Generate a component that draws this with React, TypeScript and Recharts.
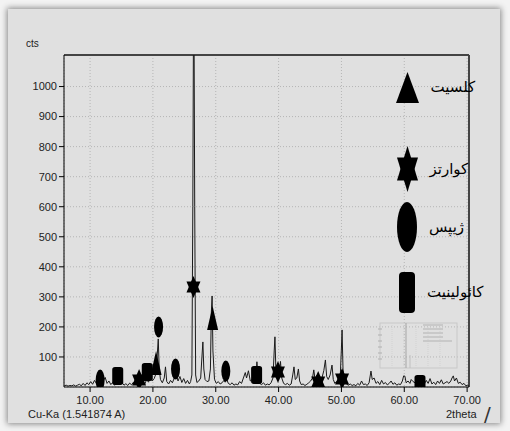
import React from 'react';
import { ComposedChart, Line, Scatter, XAxis, YAxis, CartesianGrid, ReferenceLine } from 'recharts';

// diffractogram: [2theta, counts]
const pattern: [number, number][] = [
  [5.9, 4], [6.2, 6], [6.5, 3], [6.8, 5], [7.1, 4], [7.4, 7], [7.7, 3], [8.0, 6], [8.3, 9], [8.6, 4],
  [8.9, 12], [9.2, 5], [9.5, 14], [9.8, 8], [10.1, 18], [10.4, 9], [10.7, 22], [11.0, 12], [11.3, 26], [11.6, 30],
  [11.9, 14], [12.2, 24], [12.4, 32], [12.7, 12], [13.0, 20], [13.3, 8], [13.6, 15], [13.9, 6], [14.2, 12], [14.5, 22],
  [14.8, 9], [15.1, 14], [15.4, 6], [15.7, 11], [16.0, 5], [16.3, 13], [16.6, 7], [16.9, 16], [17.2, 8], [17.5, 22],
  [17.8, 30], [18.1, 12], [18.4, 18], [18.7, 10], [19.0, 24], [19.3, 16], [19.6, 35], [19.9, 20], [20.2, 28], [20.5, 45],
  [20.7, 110], [20.85, 160], [21.0, 60], [21.2, 25], [21.5, 14], [21.8, 30], [22.0, 67], [22.2, 18], [22.5, 10], [22.8, 22],
  [23.1, 14], [23.4, 30], [23.7, 42], [24.0, 20], [24.3, 35], [24.6, 15], [24.9, 28], [25.2, 12], [25.5, 22], [25.8, 10],
  [26.0, 18], [26.2, 40], [26.35, 600], [26.45, 1180], [26.55, 1180], [26.65, 600], [26.8, 40], [27.0, 15], [27.3, 20], [27.6, 30],
  [27.8, 100], [27.95, 150], [28.1, 60], [28.3, 25], [28.6, 18], [28.9, 20], [29.15, 60], [29.3, 250], [29.42, 303], [29.55, 120],
  [29.8, 25], [30.1, 12], [30.4, 18], [30.7, 10], [31.0, 14], [31.3, 22], [31.5, 16], [31.7, 28], [32.0, 12], [32.3, 8],
  [32.6, 14], [32.9, 6], [33.2, 10], [33.5, 7], [33.8, 18], [34.1, 12], [34.4, 30], [34.7, 48], [34.9, 30], [35.2, 54],
  [35.5, 20], [35.8, 25], [36.1, 12], [36.4, 40], [36.55, 84], [36.7, 45], [37.0, 12], [37.3, 8], [37.6, 14], [37.9, 6],
  [38.2, 10], [38.5, 7], [38.8, 14], [39.1, 30], [39.3, 120], [39.42, 167], [39.55, 70], [39.8, 50], [40.0, 30], [40.3, 85],
  [40.5, 30], [40.8, 12], [41.1, 8], [41.4, 12], [41.7, 6], [42.0, 10], [42.25, 40], [42.45, 67], [42.65, 25], [42.9, 30],
  [43.15, 60], [43.35, 20], [43.6, 8], [43.9, 10], [44.2, 5], [44.5, 9], [44.8, 14], [45.1, 20], [45.4, 30], [45.6, 57],
  [45.8, 25], [46.1, 40], [46.3, 30], [46.6, 18], [46.9, 30], [47.2, 55], [47.45, 90], [47.65, 35], [47.9, 25], [48.2, 40],
  [48.5, 73], [48.7, 25], [48.95, 12], [49.2, 18], [49.5, 15], [49.8, 30], [49.98, 120], [50.1, 190], [50.25, 60], [50.5, 20],
  [50.8, 10], [51.1, 6], [51.4, 10], [51.7, 5], [52.0, 8], [52.3, 4], [52.6, 12], [52.9, 6], [53.2, 20], [53.5, 8],
  [53.8, 10], [54.1, 5], [54.4, 14], [54.7, 53], [54.9, 25], [55.2, 30], [55.5, 12], [55.8, 18], [56.1, 8], [56.4, 22],
  [56.7, 10], [57.0, 15], [57.3, 7], [57.6, 12], [57.9, 20], [58.2, 9], [58.5, 14], [58.8, 6], [59.1, 10], [59.4, 8],
  [59.7, 20], [59.9, 37], [60.1, 36], [60.3, 14], [60.6, 20], [60.9, 12], [61.1, 25], [61.4, 18], [61.7, 14], [62.0, 8],
  [62.3, 12], [62.6, 6], [62.9, 14], [63.2, 10], [63.5, 22], [63.8, 12], [64.1, 28], [64.4, 10], [64.7, 16], [65.0, 8],
  [65.3, 20], [65.6, 12], [65.9, 24], [66.2, 10], [66.5, 14], [66.8, 18], [67.1, 12], [67.4, 20], [67.6, 30], [67.8, 37],
  [68.0, 20], [68.3, 30], [68.6, 12], [68.9, 16], [69.2, 8], [69.5, 12], [69.8, 4], [70.1, 6], [70.3, 3],
];

// marker positions for each mineral
const calcite: [number, number][] = [[20.5, 80], [29.5, 230]];
const quartz: [number, number][] = [[26.45, 333], [17.8, 23], [39.9, 50], [46.3, 17], [50.1, 27]];
const gypsum: [number, number][] = [[20.9, 200], [11.6, 23], [23.6, 60], [31.6, 53]];
const kaolinite: [number, number][] = [[14.4, 37], [19.1, 50], [36.5, 40], [62.5, 10]];

const mineralNames = ['کلسیت', 'کوارتز', 'ژیپس', 'کائولینیت'];

const xTicks = [10, 20, 30, 40, 50, 60, 70];
const yTicks = [100, 200, 300, 400, 500, 600, 700, 800, 900, 1000];

const X_MIN = 5.85;
const X_MAX = 70.3;
const Y_MAX = 1105;

const toPts = (a: [number, number][]) => a.map(([x, y]) => ({ x, y }));

const TriangleMark = ({ cx, cy, w = 11, h = 24 }: any) => (
  <polygon points={`${cx},${cy - h / 2} ${cx + w / 2},${cy + h / 2} ${cx - w / 2},${cy + h / 2}`} fill="#000" />
);

const StarMark = ({ cx, cy, w = 14, h = 22 }: any) => (
  <g fill="#000">
    <polygon points={`${cx},${cy - h / 2} ${cx + w / 2},${cy + h / 4} ${cx - w / 2},${cy + h / 4}`} />
    <polygon points={`${cx},${cy + h / 2} ${cx + w / 2},${cy - h / 4} ${cx - w / 2},${cy - h / 4}`} />
  </g>
);

const EllipseMark = ({ cx, cy, w = 9, h = 21 }: any) => <ellipse cx={cx} cy={cy} rx={w / 2} ry={h / 2} fill="#000" />;

const BlockMark = ({ cx, cy, w = 11, h = 18 }: any) => (
  <rect x={cx - w / 2} y={cy - h / 2} width={w} height={h} rx={w / 4} fill="#000" />
);

// legend layout: marker, marker size, row centre
const legendRows = [
  { Mark: TriangleMark, w: 23, h: 31, cy: 87 },
  { Mark: StarMark, w: 21, h: 46, cy: 169 },
  { Mark: EllipseMark, w: 20, h: 50, cy: 227 },
  { Mark: BlockMark, w: 16, h: 41, cy: 292 },
];

const tickFont = { fontFamily: '"Liberation Sans Narrow", "Liberation Sans", Arial', fontSize: 11, fill: '#222' };
const labelFont = { fontFamily: '"Liberation Sans Narrow", "Liberation Sans", Arial', fontSize: 11, color: '#222' };

const Legend = () => (
  <>
    {legendRows.map((r, i) => (
      <div
        key={i}
        style={{ position: 'absolute', left: 390, top: r.cy - 30, height: 60, display: 'flex', alignItems: 'center' }}
      >
        <svg width={r.w + 4} height={r.h + 4} style={{ marginLeft: 15 - r.w / 2 }}>
          <r.Mark cx={(r.w + 4) / 2} cy={(r.h + 4) / 2} w={r.w} h={r.h} />
        </svg>
        <span
          style={{ fontFamily: '"DejaVu Sans", "Noto Sans"', fontSize: 15, color: '#000', marginLeft: 10, direction: 'rtl' }}
        >
          {mineralNames[i]}
        </span>
      </div>
    ))}
  </>
);

const Inset = () => (
  <svg width={82} height={50} style={{ position: 'absolute', left: 377, top: 321 }}>
    <rect x={3} y={2} width={77} height={45} fill="none" stroke="#c8c8c8" />
    {[15, 27, 39, 51, 63].map((x) => (
      <line key={x} x1={x} x2={x} y1={2} y2={47} stroke="#d2d2d2" strokeDasharray="1 1" />
    ))}
    {[8, 14, 20, 26, 32, 38].map((y) => (
      <line key={y} x1={1} x2={5} y1={y} y2={y} stroke="#b0b0b0" />
    ))}
    <line x1={29} x2={29} y1={2} y2={47} stroke="#a5a5a5" />
    <line x1={33} x2={33} y1={34} y2={47} stroke="#c0c0c0" />
    {[4, 8, 12, 16, 20].map((y, i) => (
      <line key={y} x1={46} x2={i === 4 ? 75 : 66} y1={y} y2={y} stroke="#c2c2c2" strokeWidth={1.5} />
    ))}
  </svg>
);

export default function App() {
  const lineData = toPts(pattern);
  return (
    <div style={{ position: 'absolute', left: 0, top: 0, width: 510, height: 431, background: '#f3f3f3', overflow: 'hidden' }}>
      <div
        style={{
          position: 'absolute', left: 8, top: 9, width: 492, height: 414, background: '#e0e0e0',
          boxShadow: '0 0 6px 1px rgba(0,0,0,0.45)',
        }}
      />
      <div style={{ position: 'absolute', left: 0, top: 0 }}>
        <ComposedChart width={510} height={431} data={lineData} margin={{ top: 55, right: 41, bottom: 14, left: 0 }}>
          <CartesianGrid stroke="#b5b5b5" strokeDasharray="1 2" />
          <XAxis
            type="number"
            dataKey="x"
            domain={[X_MIN, X_MAX]}
            ticks={xTicks}
            allowDataOverflow
            height={30}
            tickFormatter={(v: number) => v.toFixed(2)}
            tick={tickFont}
            tickSize={5}
            tickMargin={4}
            axisLine={{ stroke: '#000' }}
            tickLine={{ stroke: '#000' }}
          />
          <YAxis
            type="number"
            dataKey="y"
            domain={[0, Y_MAX]}
            ticks={yTicks}
            allowDataOverflow
            width={64}
            tick={tickFont}
            tickSize={5}
            tickMargin={2}
            axisLine={{ stroke: '#000' }}
            tickLine={{ stroke: '#000' }}
          />
          <ReferenceLine y={Y_MAX} stroke="#444" strokeWidth={2} />
          <ReferenceLine x={X_MAX} stroke="#444" strokeWidth={2} />
          <Line type="linear" dataKey="y" stroke="#1a1a1a" strokeWidth={1} dot={false} isAnimationActive={false} />
          <Scatter data={toPts(calcite)} shape={(p: any) => <TriangleMark cx={p.cx} cy={p.cy} />} isAnimationActive={false} />
          <Scatter data={toPts(quartz)} shape={(p: any) => <StarMark cx={p.cx} cy={p.cy} />} isAnimationActive={false} />
          <Scatter data={toPts(gypsum)} shape={(p: any) => <EllipseMark cx={p.cx} cy={p.cy} />} isAnimationActive={false} />
          <Scatter data={toPts(kaolinite)} shape={(p: any) => <BlockMark cx={p.cx} cy={p.cy} />} isAnimationActive={false} />
        </ComposedChart>
      </div>
      <Inset />
      <Legend />
      <div style={{ ...labelFont, fontSize: 10, position: 'absolute', left: 26, top: 38 }}>cts</div>
      <div style={{ ...labelFont, position: 'absolute', left: 28, top: 408 }}>Cu-Ka (1.541874 A)</div>
      <div style={{ ...labelFont, position: 'absolute', left: 446, top: 408 }}>2theta</div>
      <div style={{ position: 'absolute', left: 484, top: 402, fontFamily: '"DejaVu Sans"', fontSize: 20, color: '#333' }}>/</div>
    </div>
  );
}
